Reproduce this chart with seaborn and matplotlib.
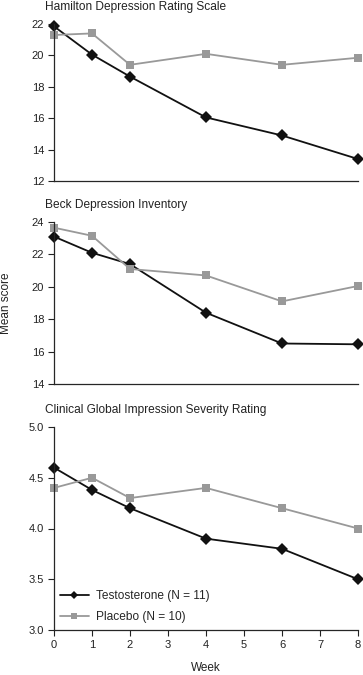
import pandas as pd
import numpy as np
import matplotlib
matplotlib.use('Agg')
import matplotlib.pyplot as plt
import seaborn as sns

weeks = [0, 1, 2, 4, 6, 8]
groups = ['Testosterone (N = 11)', 'Placebo (N = 10)']

hamd_testo = [21.85, 20.05, 18.65, 16.05, 14.9, 13.4]
hamd_placebo = [21.3, 21.4, 19.4, 20.1, 19.4, 19.85]
beck_testo = [23.1, 22.1, 21.4, 18.4, 16.5, 16.45]
beck_placebo = [23.65, 23.15, 21.1, 20.7, 19.1, 20.05]
cgi_testo = [4.6, 4.38, 4.2, 3.9, 3.8, 3.5]
cgi_placebo = [4.4, 4.5, 4.3, 4.4, 4.2, 4.0]

titles = ['Hamilton Depression Rating Scale', 'Beck Depression Inventory',
          'Clinical Global Impression Severity Rating']
ylims = [(12, 22), (14, 24), (3.0, 5.0)]
yticks = [[12, 14, 16, 18, 20, 22], [14, 16, 18, 20, 22, 24],
          [3.0, 3.5, 4.0, 4.5, 5.0]]

rows = []
for scale, t, p in zip(titles, [hamd_testo, beck_testo, cgi_testo],
                       [hamd_placebo, beck_placebo, cgi_placebo]):
    for w, a, b in zip(weeks, t, p):
        rows.append((scale, groups[0], w, a))
        rows.append((scale, groups[1], w, b))
df = pd.DataFrame(rows, columns=['scale', 'group', 'week', 'score'])

sns.set_style('ticks')
plt.rcParams['font.family'] = ['Liberation Sans', 'DejaVu Sans']

fig = plt.figure(figsize=(3.63, 6.75), dpi=100)
left, right = 54 / 363, 358 / 363
boxes = [(24, 181), (222, 384), (427, 630)]
palette = {groups[0]: '#111111', groups[1]: '#999999'}
markers = {groups[0]: 'D', groups[1]: 's'}
txt = '#222222'

for i, (title, (top, bot)) in enumerate(zip(titles, boxes)):
    ax = fig.add_axes([left, 1 - bot / 675, right - left, (bot - top) / 675])
    sub = df[df['scale'] == title]
    sns.lineplot(data=sub, x='week', y='score', hue='group', style='group',
                 markers=markers, dashes=False, palette=palette, ax=ax,
                 markersize=6, linewidth=1.3, markeredgewidth=0,
                 legend=(i == 2), clip_on=False)
    ax.set_xlim(0, 8)
    ax.set_ylim(*ylims[i])
    ax.set_yticks(yticks[i])
    if i == 2:
        ax.set_yticklabels(['%.1f' % v for v in yticks[i]])
        ax.set_xticks(range(9))
        ax.set_xlabel('Week', fontsize=8.5, labelpad=9, color=txt)
        handles, labels = ax.get_legend_handles_labels()
        for h in handles:
            h.set_markersize(4.5)
        ax.legend(handles, labels, loc='lower left', bbox_to_anchor=(0.0, 0.005),
                  frameon=False, fontsize=8.6, handlelength=2.4,
                  labelspacing=0.75, borderaxespad=0.1, handletextpad=0.6)
    else:
        ax.set_xticks([])
        ax.set_xlabel('')
    ax.set_ylabel('')
    ax.tick_params(labelsize=8, width=0.8, length=4.5, colors=txt, pad=2.5)
    for s in ['top', 'right']:
        ax.spines[s].set_visible(False)
    for s in ['left', 'bottom']:
        ax.spines[s].set_linewidth(0.9)
    ax.set_facecolor('none')
    fig.text(45 / 363, 1 - (top - 17) / 675, title, fontsize=8.6,
             ha='left', va='center', color=txt)

fig.text(6 / 363, 1 - 303 / 675, 'Mean score', rotation=90, fontsize=8.5,
         ha='center', va='center', color=txt)

fig.savefig('out.png', dpi=100)
